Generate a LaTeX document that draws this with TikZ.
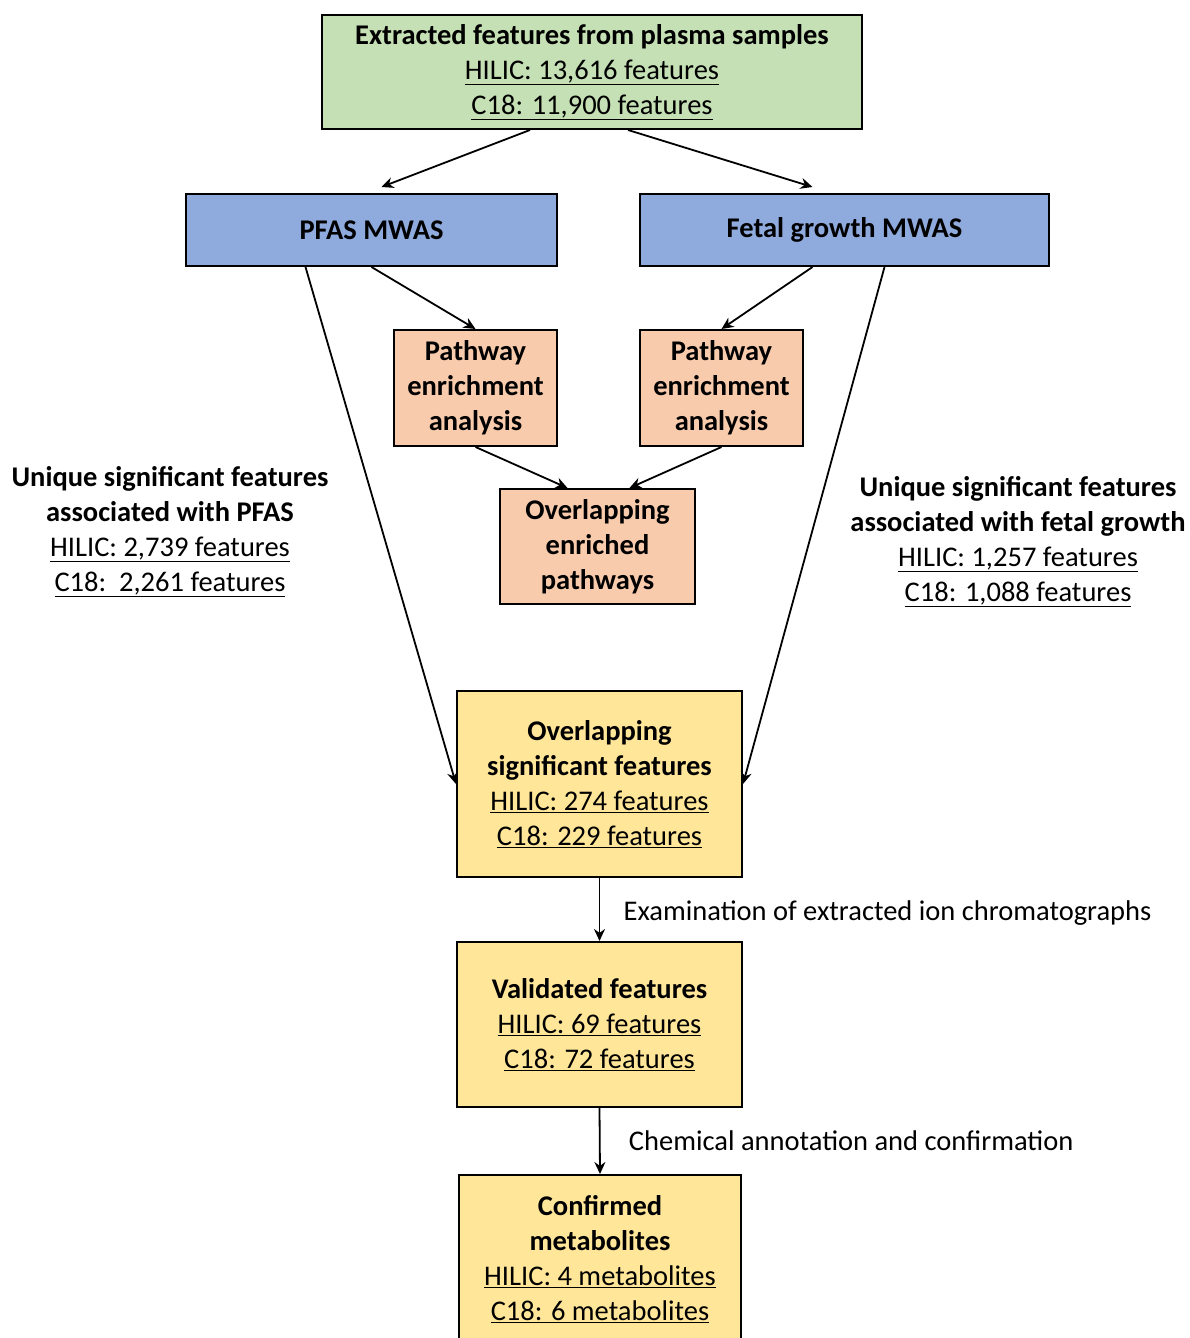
\documentclass[tikz,border=0pt]{standalone}
\usepackage{fontspec}
\setmainfont{Carlito}
\usepackage{xcolor}
\definecolor{featgreen}{HTML}{C5E0B4}
\definecolor{mwasblue}{HTML}{8FAADC}
\definecolor{pathorange}{HTML}{F8CBAD}
\definecolor{resyellow}{HTML}{FFE699}
\usepackage{tikz}
\usetikzlibrary{arrows.meta, positioning, calc}
\tikzset{
  box/.style={
    rectangle, draw=black, line width=2pt,
    inner sep=0pt, align=center,
    font=\fontsize{28.5}{35}\selectfont
  },
  featbox/.style={box, fill=featgreen},
  mwasbox/.style={box, fill=mwasblue},
  pathbox/.style={box, fill=pathorange},
  resultbox/.style={box, fill=resyellow},
  note/.style={align=center, font=\fontsize{28.5}{35}\selectfont},
  steplabel/.style={anchor=west, font=\fontsize{28.5}{35}\selectfont},
  arrow/.style={line width=1.8pt, -{Stealth[length=12pt, width=11pt]}},
}

\begin{document}
\begin{tikzpicture}[x=1pt, y=-1pt]
  \useasboundingbox (0,0) rectangle (1189,1338);

  \node (extract) [featbox, minimum width=540, minimum height=114] at (592,72)
    {\textbf{Extracted features from plasma samples}\\
     \underline{HILIC: 13,616 features}\\
     \underline{C18: 11,900 features}};
  \node (pfas)    [mwasbox, minimum width=371, minimum height=72] at (371.5,230)
    {\textbf{PFAS MWAS}};
  \node (fetal)   [mwasbox, minimum width=409, minimum height=72] at (844.5,230)
    {\textbf{Fetal growth MWAS}};
  \node (pathL)   [pathbox, minimum width=163, minimum height=116] at (475.5,388)
    {\textbf{Pathway}\\ \textbf{enrichment}\\ \textbf{analysis}};
  \node (pathR)   [pathbox, minimum width=163, minimum height=116] at (721.5,388)
    {\textbf{Pathway}\\ \textbf{enrichment}\\ \textbf{analysis}};
  \node (overlap) [pathbox, minimum width=195, minimum height=115] at (597.5,546.5)
    {\textbf{Overlapping}\\ \textbf{enriched}\\ \textbf{pathways}};
  \node (sig)     [resultbox, minimum width=285, minimum height=186] at (599.5,784)
    {\textbf{Overlapping}\\ \textbf{significant features}\\
     \underline{HILIC: 274 features}\\
     \underline{C18: 229 features}};
  \node (valid)   [resultbox, minimum width=285, minimum height=165] at (599.5,1024.5)
    {\textbf{Validated features}\\
     \underline{HILIC: 69 features}\\
     \underline{C18: 72 features}};
  \node (confirm) [resultbox, minimum width=282, minimum height=169] at (600,1259.5)
    {\textbf{Confirmed}\\ \textbf{metabolites}\\
     \underline{HILIC: 4 metabolites}\\
     \underline{C18: 6 metabolites}};

  % side notes
  \node (uniqL) [note] at (170,531.5)
    {\textbf{Unique significant features}\\
     \textbf{associated with PFAS}\\
     \underline{HILIC: 2,739 features}\\
     \underline{C18:\ \ 2,261 features}};
  \node (uniqR) [note] at (1018,541.5)
    {\textbf{Unique significant features}\\
     \textbf{associated with fetal growth}\\
     \underline{HILIC: 1,257 features}\\
     \underline{C18: 1,088 features}};

  \draw [arrow] ([xshift=-62pt]extract.south) -- ([xshift=10pt, yshift=6pt]pfas.north);
  \draw [arrow] ([xshift=36pt]extract.south)  -- ([xshift=-32pt, yshift=6pt]fetal.north);
  \draw [arrow] (pfas.south)                  -- (pathL.north);
  \draw [arrow] ([xshift=-32pt]fetal.south)   -- (pathR.north);
  \draw [arrow] ([xshift=-66pt]pfas.south)    -- (sig.west);
  \draw [arrow] ([xshift=40pt]fetal.south)    -- (sig.east);
  \draw [arrow] (pathL.south)                 -- ([xshift=-30pt]overlap.north);
  \draw [arrow] (pathR.south)                 -- ([xshift=32pt]overlap.north);
  \draw [arrow] (sig.south)   -- node [steplabel, xshift=20pt, yshift=-4pt] {Examination of extracted ion chromatographs} (valid.north);
  \draw [arrow] (valid.south) -- node [steplabel, xshift=25pt] {Chemical annotation and confirmation} (confirm.north);
\end{tikzpicture}
\end{document}
